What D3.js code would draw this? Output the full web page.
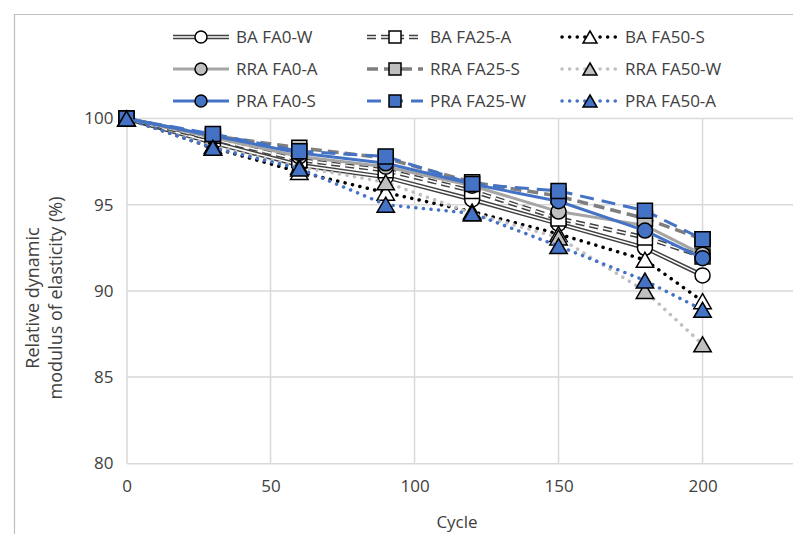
<!DOCTYPE html>
<html>
<head>
<meta charset="utf-8">
<script src="https://cdn.jsdelivr.net/npm/d3@7"></script>
<style>
  body { margin: 0; background: #fff; }
  svg { display: block; font-family: "Open Sans", "Noto Sans", sans-serif; }
</style>
</head>
<body>
<svg id="chart" width="793" height="534"></svg>
<script>
// data
const cycles = [0, 30, 60, 90, 120, 150, 180, 200];
const seriesNames = [
  "BA FA0-W", "BA FA25-A", "BA FA50-S",
  "RRA FA0-A", "RRA FA25-S", "RRA FA50-W",
  "PRA FA0-S", "PRA FA25-W", "PRA FA50-A",
];
const baFA0W = [100, 98.6, 97.3, 96.6, 95.3, 93.9, 92.5, 90.9];
const baFA25A = [100, 98.8, 97.6, 97.0, 95.8, 94.2, 93.1, 92.0];
const baFA50S = [100, 98.3, 96.9, 95.7, 94.6, 93.3, 91.8, 89.4];
const rraFA0A = [100, 98.9, 97.8, 97.2, 96.1, 94.6, 93.8, 92.1];
const rraFA25S = [100, 99.0, 98.3, 97.7, 96.3, 95.5, 94.2, 93.0];
const rraFA50W = [100, 98.4, 97.2, 96.3, 94.5, 93.1, 90.0, 86.9];
const praFA0S = [100, 99.0, 98.0, 97.4, 96.2, 95.2, 93.5, 91.9];
const praFA25W = [100, 99.1, 98.1, 97.8, 96.2, 95.8, 94.65, 93.0];
const praFA50A = [100, 98.3, 97.1, 95.0, 94.5, 92.6, 90.6, 88.9];
const yTicks = [80, 85, 90, 95, 100];
const xTicks = [0, 50, 100, 150, 200];

const seriesValues = [baFA0W, baFA25A, baFA50S, rraFA0A, rraFA25S, rraFA50W, praFA0S, praFA25W, praFA50A];

const blue = "#4472c4";
const textColor = "#404040";
const styles = [
  { stroke: "#404040", width: 4.5, inner: "#fff", innerWidth: 1.6, dash: null, marker: "circle", fill: "#fff" },
  { stroke: "#404040", width: 4.5, inner: "#fff", innerWidth: 1.6, dash: "9,5", marker: "square", fill: "#fff" },
  { stroke: "#000", width: 3.5, dash: "0.1,7.5", cap: "round", marker: "triangle", fill: "#fff" },
  { stroke: "#a5a5a5", width: 3, dash: null, marker: "circle", fill: "#bfbfbf" },
  { stroke: "#7f7f7f", width: 3.5, dash: "11,6", marker: "square", fill: "#bfbfbf" },
  { stroke: "#bfbfbf", width: 3.5, dash: "0.1,7.5", cap: "round", marker: "triangle", fill: "#bfbfbf" },
  { stroke: blue, width: 3, dash: null, marker: "circle", fill: blue },
  { stroke: blue, width: 3, dash: "14,8", marker: "square", fill: blue },
  { stroke: blue, width: 3.5, dash: "0.1,7.5", cap: "round", marker: "triangle", fill: blue },
];

const series = seriesNames.map((name, i) => ({
  name,
  style: styles[i],
  points: cycles.map((c, j) => ({ x: c, y: seriesValues[i][j] })),
}));

const svg = d3.select("#chart");
const W = 793, H = 534;

const x = d3.scaleLinear().domain([0, 231.4]).range([126.5, W]);
const y = d3.scaleLinear().domain([80, 100]).range([463.3, 118.5]);

// chart area border (cropped)
svg.append("path")
  .attr("d", `M14.5,${H} V14.5 H${W}`)
  .attr("fill", "none")
  .attr("stroke", "#bfbfbf")
  .attr("stroke-width", 1.2);

// gridlines
const grid = svg.append("g");
grid.selectAll(".hg").data(yTicks.filter((d) => d > 80)).join("line")
  .attr("x1", x(0)).attr("x2", W)
  .attr("y1", (d) => y(d)).attr("y2", (d) => y(d))
  .attr("stroke", "#d9d9d9").attr("stroke-width", 1.5);
grid.selectAll(".vg").data(xTicks.filter((d) => d > 0)).join("line")
  .attr("x1", (d) => x(d)).attr("x2", (d) => x(d))
  .attr("y1", y(100)).attr("y2", y(80))
  .attr("stroke", "#d9d9d9").attr("stroke-width", 1.5);

// axes
const xAxis = svg.append("g")
  .attr("transform", `translate(0, ${y(80)})`)
  .call(d3.axisBottom(x).tickValues(xTicks).tickSize(0).tickPadding(17));
const yAxis = svg.append("g")
  .attr("transform", `translate(${x(0)}, 0)`)
  .call(d3.axisLeft(y).tickValues(yTicks).tickSize(0).tickPadding(13));
[xAxis, yAxis].forEach((a) => {
  a.select(".domain").attr("stroke", "#d9d9d9").attr("stroke-width", 1.5);
  a.selectAll("text")
    .attr("fill", textColor)
    .style("font-size", "17px")
    .style("font-family", "'Open Sans', sans-serif");
});

// axis titles
svg.append("text")
  .attr("x", 457).attr("y", 528)
  .attr("text-anchor", "middle")
  .attr("fill", textColor)
  .style("font-size", "17px")
  .text("Cycle");
const yTitle = svg.append("text")
  .attr("transform", "translate(0, 298) rotate(-90)")
  .attr("text-anchor", "middle")
  .attr("fill", textColor)
  .style("font-size", "18px");
yTitle.append("tspan").attr("x", 0).attr("y", 39).text("Relative dynamic");
yTitle.append("tspan").attr("x", 0).attr("y", 62).text("modulus of elasticity (%)");

// marker shapes
function markerPath(type, s) {
  const h = s / 2;
  if (type === "circle") return d3.symbol(d3.symbolCircle, Math.PI * h * h)();
  if (type === "square") return `M${-h},${-h}H${h}V${h}H${-h}Z`;
  const w = s * 0.58;
  return `M0,${-h}L${w},${h}L${-w},${h}Z`;
}

function drawLine(g, d, st) {
  const p = g.append("path")
    .attr("d", d)
    .attr("fill", "none")
    .attr("stroke", st.stroke)
    .attr("stroke-width", st.width)
    .attr("stroke-linecap", st.cap || "butt")
    .attr("stroke-linejoin", "round");
  if (st.dash) p.attr("stroke-dasharray", st.dash);
  if (st.inner) {
    const q = g.append("path")
      .attr("d", d)
      .attr("fill", "none")
      .attr("stroke", st.inner)
      .attr("stroke-width", st.innerWidth)
      .attr("stroke-linejoin", "round");
    if (st.dash) q.attr("stroke-dasharray", st.dash);
  }
}

const line = d3.line().x((d) => x(d.x)).y((d) => y(d.y));

const plot = svg.append("g");
series.forEach((s) => {
  const g = plot.append("g");
  drawLine(g, line(s.points), s.style);
  g.selectAll("path.mk").data(s.points).join("path")
    .attr("class", "mk")
    .attr("d", markerPath(s.style.marker, 15))
    .attr("transform", (d) => `translate(${x(d.x)}, ${y(d.y)})`)
    .attr("fill", s.style.fill)
    .attr("stroke", "#000")
    .attr("stroke-width", 1.5);
});

// legend
const legendCols = [173, 367, 562];
const legendRows = [37, 69, 101];
const legend = svg.append("g");
series.forEach((s, i) => {
  const lx = legendCols[i % 3], ly = legendRows[Math.floor(i / 3)];
  const g = legend.append("g").attr("transform", `translate(${lx}, ${ly})`);
  drawLine(g, "M0,0H56", s.style);
  g.append("path")
    .attr("d", markerPath(s.style.marker, 12))
    .attr("transform", "translate(28, 0)")
    .attr("fill", s.style.fill)
    .attr("stroke", "#000")
    .attr("stroke-width", 1.5);
  g.append("text")
    .attr("x", 63).attr("y", 0)
    .attr("dy", "0.35em")
    .attr("fill", textColor)
    .style("font-size", "17px")
    .text(s.name);
});
</script>
</body>
</html>
